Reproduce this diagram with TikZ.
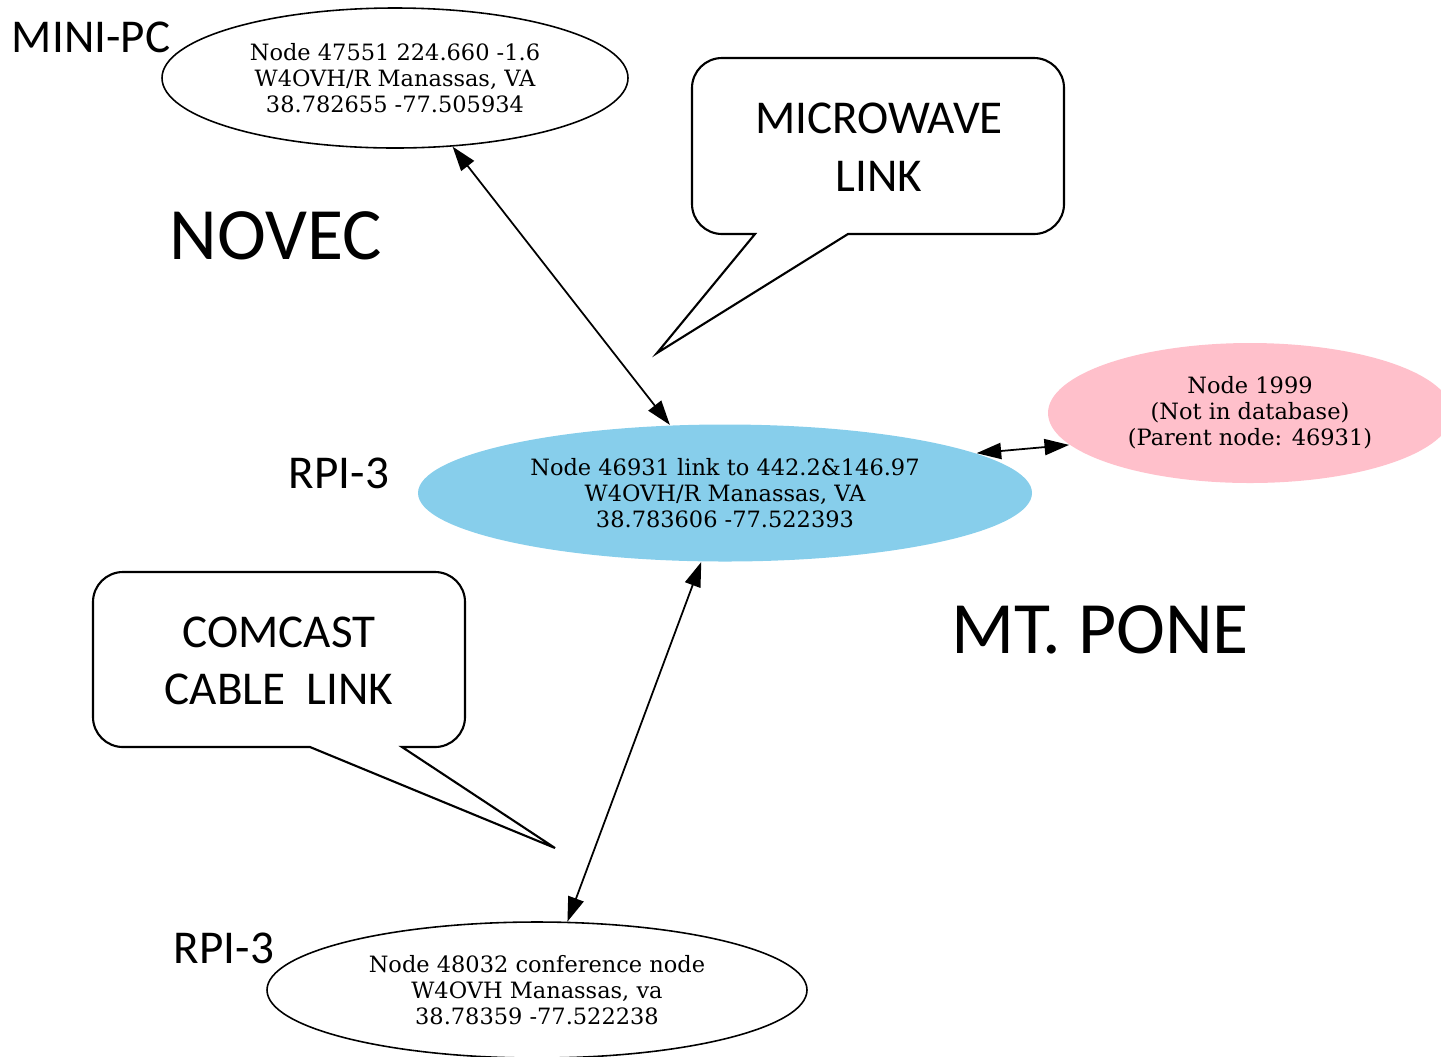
\documentclass[tikz,border=0pt]{standalone}
\usepackage{fontspec}
\setmainfont{DejaVu Serif}
\newfontfamily\calib{Carlito}
\usetikzlibrary{shapes.geometric,arrows.meta}
\definecolor{nodeblue}{HTML}{87CEEB}
\definecolor{nodepink}{HTML}{FFC0CB}

\begin{document}
\begin{tikzpicture}[
    site/.style={ellipse, inner sep=0pt, align=center, font=\fontsize{6.4}{7.4}\selectfont},
    link/.style={{Triangle[length=7pt,width=4.6pt]}-{Triangle[length=7pt,width=4.6pt]}, line width=0.5pt},
    tag/.style={font=\calib\fontsize{13.4}{16.4}\selectfont, align=center},
    place/.style={font=\calib\fontsize{21}{24}\selectfont},
    bubble/.style={draw=black, line width=0.6pt, fill=white}
  ]
  \clip (0,0) rectangle (14.41,-10.56);

  % speech bubbles
  \draw[bubble] (6.57,-3.53) -- (8.48,-2.34) [rounded corners=0.3cm] -- (10.64,-2.34) -- (10.64,-0.58)
      -- (6.92,-0.58) -- (6.92,-2.34) [sharp corners] -- (7.55,-2.34) -- cycle;
  \node[tag] (mwtext) at (8.79,-1.47) {MICROWAVE\\LINK};
  \draw[bubble] (5.55,-8.48) -- (4.02,-7.47) [rounded corners=0.3cm] -- (4.65,-7.47) -- (4.65,-5.72)
      -- (0.93,-5.72) -- (0.93,-7.47) [sharp corners] -- (3.10,-7.47) -- cycle;
  \node[tag] (cctext) at (2.79,-6.61) {COMCAST\\CABLE\ \ LINK};

  % nodes
  \node[site, draw=black, line width=0.45pt, minimum width=4.66cm, minimum height=1.40cm] (minipc) at (3.95,-0.78)
    {Node 47551 224.660 -1.6\\W4OVH/R Manassas, VA\\38.782655 -77.505934};
  \node[site, fill=nodeblue, minimum width=6.14cm, minimum height=1.37cm] (hub) at (7.25,-4.93)
    {Node 46931 link to 442.2\&146.97\\W4OVH/R Manassas, VA\\38.783606 -77.522393};
  \node[site, fill=nodepink, minimum width=4.04cm, minimum height=1.40cm] (n1999) at (12.50,-4.13)
    {Node 1999\\(Not in database)\\(Parent node: 46931)};
  \node[site, draw=black, line width=0.45pt, minimum width=5.40cm, minimum height=1.36cm] (conf) at (5.37,-9.90)
    {Node 48032 conference node\\W4OVH Manassas, va\\38.78359 -77.522238};

  % links
  \draw[link] (minipc.-50.8) -- (hub.129.2);
  \draw[link] (hub.-109.7) -- (conf.66.9);
  \draw[link] (hub.9) -- (n1999.190);

  % labels
  \node[tag] (lblmini) at (0.91,-0.37) {MINI-PC};
  \node[tag] (lblrpi) at (3.39,-4.73) {RPI-3};
  \node[tag] (lblrpib) at (2.24,-9.48) {RPI-3};
  \node[place] (novec) at (2.76,-2.36) {NOVEC};
  \node[place] (pone) at (11.00,-6.30) {MT. PONE};
\end{tikzpicture}
\end{document}
